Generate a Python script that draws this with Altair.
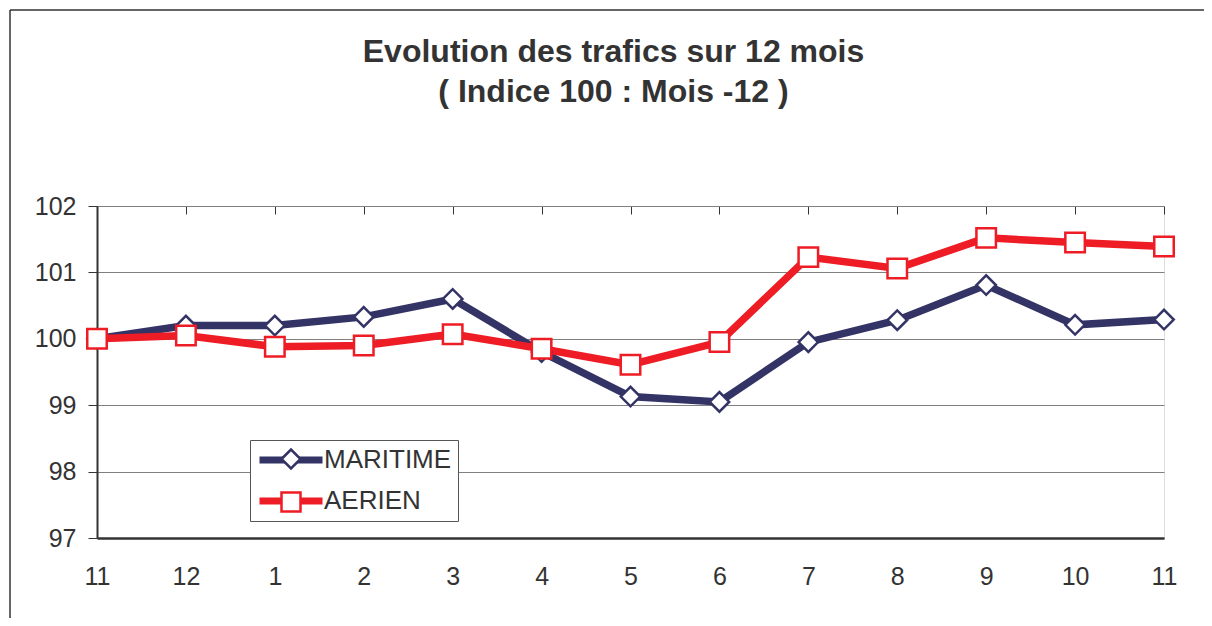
import json
import altair as alt
import pandas as pd

# ---- data ----
months = ["11", "12", "1", "2", "3", "4", "5", "6", "7", "8", "9", "10", "11"]
maritime = [100.0, 100.2, 100.2, 100.33, 100.6, 99.8, 99.13, 99.05, 99.95, 100.28, 100.81, 100.21, 100.29]
aerien = [100.0, 100.05, 99.88, 99.9, 100.07, 99.85, 99.61, 99.95, 101.23, 101.06, 101.52, 101.45, 101.39]
series = ["MARITIME", "AERIEN"]
colors = ["#333366", "#EE1C25"]
shapes = ["diamond", "square"]
y_ticks = [97, 98, 99, 100, 101, 102]
title_lines = ["Evolution des trafics sur 12 mois", "( Indice 100 : Mois -12 )"]

rows = []
for name, vals in zip(series, [maritime, aerien]):
    for i, v in enumerate(vals):
        rows.append({"idx": i, "mois": months[i], "serie": name, "serie_pt": name, "valeur": v})
df = pd.DataFrame(rows)

FONT = "Liberation Sans"
TXT = "#333333"

x_enc = alt.X(
    "idx:Q",
    scale=alt.Scale(domain=[0, len(months) - 1], nice=False, zero=False),
    axis=alt.Axis(
        values=list(range(len(months))),
        labelExpr=f"{json.dumps(months)}[datum.value]",
        labelFontSize=25, labelFont=FONT, labelColor=TXT, labelPadding=26, labelAngle=0,
        labelFlush=False, labelOverlap=False,
        ticks=False, domainColor="#333333", domainWidth=2.5,
        grid=True, gridColor="#333333", gridWidth=1, gridDash=[8, 2000],
        title=None,
    ),
)
y_enc = alt.Y(
    "valeur:Q",
    scale=alt.Scale(domain=[97, 102], nice=False, zero=False),
    axis=alt.Axis(
        values=y_ticks, format="d",
        labelFontSize=25, labelFont=FONT, labelColor=TXT, labelPadding=12,
        tickSize=9, tickColor="#333333", tickWidth=1,
        domainColor="#333333", domainWidth=2,
        grid=True, gridColor="#808080", gridWidth=1,
        title=None,
    ),
)

line_legend = alt.Legend(
    title=None, orient="none", legendX=153, legendY=234, direction="vertical",
    symbolType="M-3,0H3", symbolSize=441, symbolStrokeWidth=7, symbolOffset=21,
    labelOffset=19, labelFontSize=26, labelFont=FONT, labelColor=TXT,
    rowPadding=13, padding=6, fillColor="white", strokeColor="#555555",
)
pt_legend = alt.Legend(
    title=None, orient="none", legendX=153, legendY=234, direction="vertical",
    symbolSize=361, symbolStrokeWidth=2.5, symbolFillColor="white", symbolOffset=22,
    labelOffset=19, labelFontSize=26, labelFont=FONT, labelOpacity=0,
    rowPadding=13, padding=6,
)

lines = alt.Chart(df).mark_line(strokeWidth=7.5).encode(
    x=x_enc, y=y_enc,
    color=alt.Color("serie:N", sort=series, scale=alt.Scale(range=colors), legend=line_legend),
)

points = alt.Chart(df).mark_point(filled=True, fill="white", size=380, strokeWidth=2.5, opacity=1).encode(
    x=x_enc, y=y_enc,
    shape=alt.Shape("serie_pt:N", scale=alt.Scale(domain=series, range=shapes), legend=pt_legend),
    stroke=alt.Stroke("serie_pt:N", scale=alt.Scale(domain=series, range=colors), legend=pt_legend),
)

frame = alt.Data(values=[{}])
frame_v = alt.Chart(frame).mark_rule(color="#333333", strokeWidth=1.5).encode(
    x=alt.value(-87), y=alt.value(-196), y2=alt.value(430)
)
frame_h = alt.Chart(frame).mark_rule(color="#333333", strokeWidth=1.5).encode(
    x=alt.value(-87), x2=alt.value(1130), y=alt.value(-196)
)

chart = alt.layer(frame_v, frame_h, lines, points).properties(
    width=1067, height=332,
    autosize=alt.AutoSizeParams(type="none"),
    padding={"left": 89, "top": 198, "right": 40, "bottom": 80},
    title=alt.Title(
        title_lines, fontSize=32, font=FONT, fontWeight="bold", color=TXT,
        anchor="middle", frame="group", baseline="bottom", offset=0, dy=132, dx=-17, lineHeight=40,
    ),
).configure_view(stroke="#333333", strokeWidth=2).configure(background="white")

chart.save("out.html", embed_options={"renderer": "svg", "actions": False})
